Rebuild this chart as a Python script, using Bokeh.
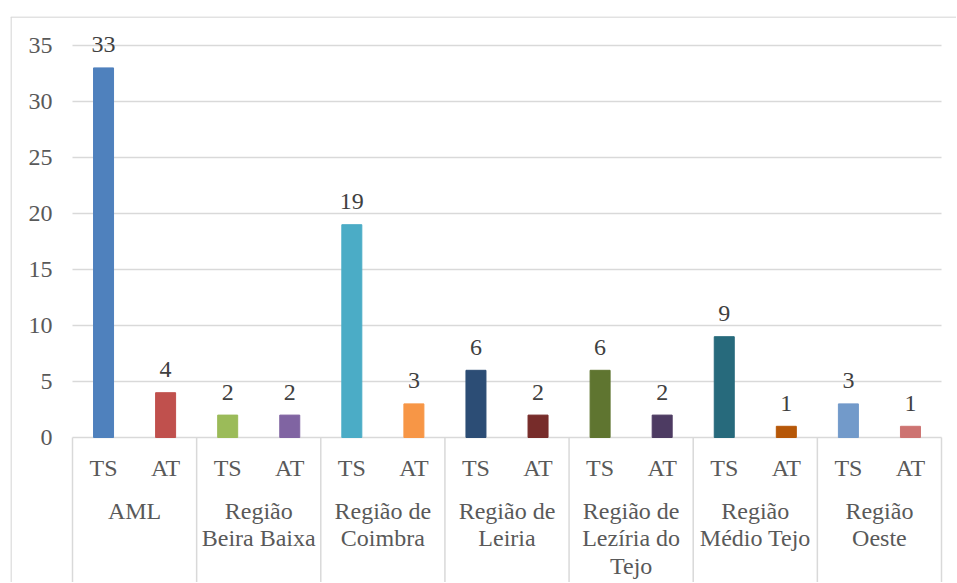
from bokeh.plotting import figure
from bokeh.models import Range1d, ColumnDataSource
from bokeh.core.properties import value
from bokeh.embed import file_html
from bokeh.resources import INLINE

# ---- data ----
regions = ["AML", "Região\nBeira Baixa", "Região de\nCoimbra", "Região de\nLeiria",
           "Região de\nLezíria do\nTejo", "Região\nMédio Tejo", "Região\nOeste"]
subcats = ["TS", "AT"]
ts_values = [33, 2, 19, 6, 6, 9, 3]
at_values = [4, 2, 3, 2, 2, 1, 1]
ts_colors = ["#4f81bd", "#9bbb59", "#4bacc6", "#2c4d75", "#5f7530", "#276a7c", "#729aca"]
at_colors = ["#c0504d", "#8064a2", "#f79646", "#772c2a", "#4d3b62", "#b65708", "#cd7371"]
y_ticks = [0, 5, 10, 15, 20, 25, 30, 35]

# ---- layout constants (pixels) ----
FONT = value("Liberation Serif")
FS = "24px"
W, H = 956, 582
FR_L, FR_T = 10, 16          # frame offsets inside figure
PLOT_L, PLOT_R = 72, 941     # page px of plot area
Y0_PX, PX_PER_UNIT = 437, 11.2
PAGE = 0

n_slots = 2 * len(regions)
slot_px = (PLOT_R - PLOT_L) / n_slots

def px_to_x(px):
    return (px - PLOT_L) / slot_px

def px_to_y(py):
    return (Y0_PX - py) / PX_PER_UNIT

x_start = px_to_x(PAGE + FR_L)
x_end = px_to_x(PAGE + W)
y_end = px_to_y(PAGE + FR_T)
y_start = px_to_y(PAGE + H)

p = figure(width=W, height=H, x_range=Range1d(x_start, x_end), y_range=Range1d(y_start, y_end),
           output_backend="svg", toolbar_location=None,
           x_axis_location=None, y_axis_location=None,
           min_border_left=FR_L, min_border_right=0, min_border_top=FR_T, min_border_bottom=0)
p.grid.visible = False
p.outline_line_color = None
p.background_fill_color = "white"
p.border_fill_color = "white"

GRAY = "#d9d9d9"

# outer border (left and top)
p.segment(x0=[px_to_x(PAGE + FR_L + 0.5), x_start], y0=[y_start, px_to_y(PAGE + FR_T + 0.5)],
          x1=[px_to_x(PAGE + FR_L + 0.5), x_end], y1=[px_to_y(PAGE + FR_T + 0.5), px_to_y(PAGE + FR_T + 0.5)],
          line_color=GRAY, line_width=1.5)

# gridlines (incl. axis line at 0)
p.segment(x0=[0] * len(y_ticks), x1=[n_slots] * len(y_ticks), y0=y_ticks, y1=y_ticks,
          line_color=GRAY, line_width=1.5)

# category separators
seps = list(range(0, n_slots + 1, 2))
p.segment(x0=seps, x1=seps, y0=[0] * len(seps), y1=[y_start] * len(seps),
          line_color=GRAY, line_width=1.5)

# bars
xs, tops, cols = [], [], []
for i in range(len(regions)):
    xs += [2 * i + 0.5, 2 * i + 1.5]
    tops += [ts_values[i], at_values[i]]
    cols += [ts_colors[i], at_colors[i]]
src = ColumnDataSource(dict(x=xs, top=tops, color=cols, label=[str(v) for v in tops]))
p.vbar(x="x", top="top", bottom=0, width=20 / slot_px, color="color", source=src)

# data labels
p.text(x="x", y="top", text="label", source=src, text_font=FONT, text_font_size=FS,
       text_color="#404040", text_align="center", text_baseline="alphabetic", y_offset=-23)

# y tick labels
p.text(x=[px_to_x(52)] * len(y_ticks), y=y_ticks, text=[str(t) for t in y_ticks],
       text_font=FONT, text_font_size=FS, text_color="#595959",
       text_align="right", text_baseline="middle")

# sub-category labels
p.text(x=xs, y=[px_to_y(467)] * len(xs), text=subcats * len(regions),
       text_font=FONT, text_font_size=FS, text_color="#595959",
       text_align="center", text_baseline="middle")

# group labels (one text per line)
gx, gy, gt = [], [], []
for i, r in enumerate(regions):
    for k, line in enumerate(r.split("\n")):
        gx.append(2 * i + 1)
        gy.append(px_to_y(510 + 27.5 * k))
        gt.append(line)
p.text(x=gx, y=gy, text=gt, text_font=FONT, text_font_size=FS, text_color="#595959",
       text_align="center", text_baseline="middle")

open("out.html", "w").write(file_html(p, INLINE))
